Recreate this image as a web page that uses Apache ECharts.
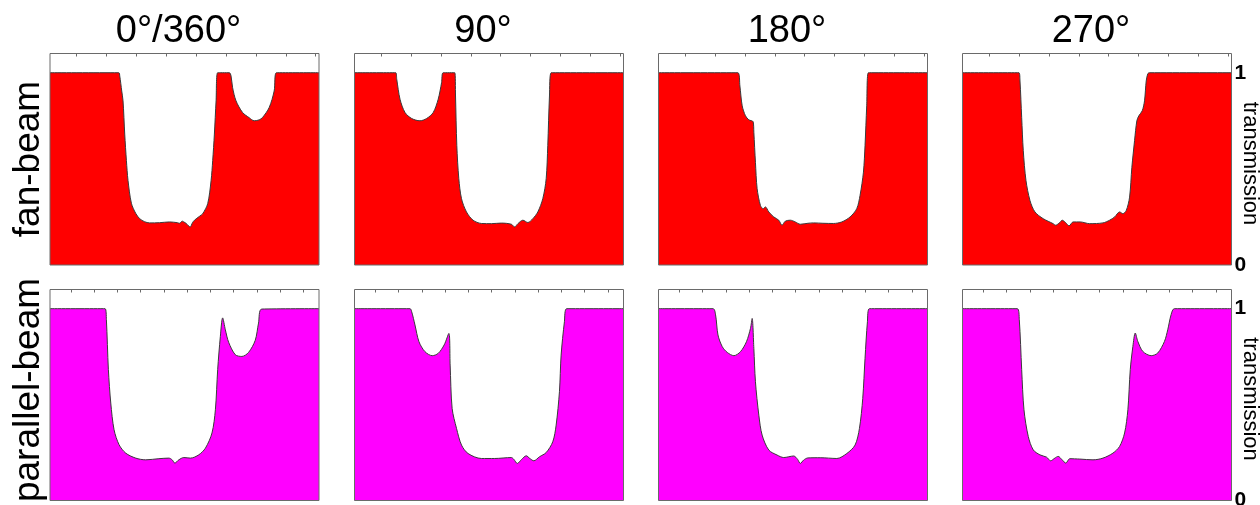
<!DOCTYPE html>
<html>
<head>
<meta charset="utf-8">
<script src="https://cdn.jsdelivr.net/npm/echarts@6/dist/echarts.min.js"></script>
<style>
  html, body { margin: 0; padding: 0; background: #fff; }
  #chart { width: 1260px; height: 505px; }
</style>
</head>
<body>
<div id="chart"></div>
<script>
// Projection angles (columns) and beam geometries (rows)
const angleLabels = ['0°/360°', '90°', '180°', '270°'];
const beamLabels = ['fan-beam', 'parallel-beam'];

// Detector position ticks (drawn along the top edge of every panel)
const fanTicks = [26.7, 56.7, 86.7, 116.7, 146.7, 176.7, 206.7, 236.7, 266.7];
const parallelTicks = [21, 44.3, 67.7, 91, 114.3, 137.7, 161, 184.3, 207.7, 231, 254.3];
const transmissionTicks = [0, 1];

// Transmission profiles: [detector position, transmission]
const fan0 = [
  [0, 1], [69, 1], [70, 0.983], [72, 0.905], [73.3, 0.854], [75, 0.681], [76.7, 0.543],
  [78.3, 0.44], [81.7, 0.321], [86, 0.269], [90, 0.241], [95, 0.225], [100, 0.219],
  [110, 0.22], [120, 0.224], [128, 0.22], [130, 0.217], [132.7, 0.228], [134, 0.225],
  [136.7, 0.216], [140.7, 0.198], [143, 0.22], [145, 0.233], [150, 0.253], [153.3, 0.267],
  [158.3, 0.319], [161.7, 0.44], [163.3, 0.543], [165, 0.681], [166.7, 0.854], [168.3, 1],
  [180, 1], [181.7, 0.983], [183.3, 0.922], [186.7, 0.854], [193.3, 0.793], [200, 0.766],
  [205, 0.75], [210, 0.755], [213.3, 0.767], [220, 0.819], [225, 0.905], [227.3, 1], [270, 1]
];
const fan90 = [
  [0, 1], [41.4, 1], [42.4, 0.966], [45.7, 0.862], [50.7, 0.793], [57.4, 0.762],
  [65.7, 0.75], [72.4, 0.762], [79, 0.793], [84, 0.862], [87.4, 0.948], [89, 1],
  [100.7, 1], [101.4, 0.879], [102.7, 0.621], [104.7, 0.449], [107.4, 0.345],
  [112.4, 0.276], [119, 0.233], [127.4, 0.216], [137.4, 0.215], [147.4, 0.218],
  [157.4, 0.212], [160.7, 0.198], [164, 0.215], [169, 0.233], [174, 0.221], [179, 0.241],
  [184, 0.276], [189, 0.345], [192.4, 0.449], [194, 0.621], [195.7, 0.879], [197.4, 1],
  [270, 1]
];
const fan180 = [
  [0, 1], [79.7, 1], [81.7, 0.931], [84, 0.828], [87.3, 0.776], [90.7, 0.755], [95, 0.745],
  [95.7, 0.69], [97.3, 0.534], [99, 0.397], [102.3, 0.31], [105, 0.293], [107.3, 0.302],
  [110.7, 0.276], [115.7, 0.25], [120.7, 0.233], [124, 0.207], [127.3, 0.228],
  [132.3, 0.233], [137.3, 0.224], [142.3, 0.212], [150, 0.217], [155.7, 0.219],
  [165, 0.217], [175.7, 0.216], [184, 0.224], [192.3, 0.25], [199, 0.293], [202.3, 0.362],
  [205.7, 0.483], [207.3, 0.621], [209, 0.828], [210.7, 1], [270, 1]
];
const fan270 = [
  [0, 1], [56.7, 1], [57.7, 0.957], [59.4, 0.767], [61, 0.595], [63.7, 0.44], [67.7, 0.336],
  [72.7, 0.276], [81, 0.241], [91, 0.215], [93.4, 0.207], [97.7, 0.221], [100, 0.233],
  [103.4, 0.221], [107, 0.204], [111, 0.224], [118, 0.224], [127.7, 0.215], [141, 0.219],
  [147.7, 0.233], [152.7, 0.25], [157.7, 0.276], [161, 0.267], [164.4, 0.284],
  [167.7, 0.353], [170, 0.508], [172.7, 0.647], [175, 0.75], [177, 0.776], [180.4, 0.802],
  [182.7, 0.854], [184.4, 0.957], [186, 0.995], [187.7, 1], [270, 1]
];
const par0 = [
  [0, 1], [55.3, 1], [56.6, 0.943], [58.6, 0.682], [61, 0.508], [64.3, 0.369], [69.3, 0.291],
  [76, 0.247], [86, 0.221], [96, 0.212], [109.3, 0.218], [119.3, 0.221], [122.6, 0.212],
  [125.3, 0.195], [129.3, 0.212], [134.3, 0.224], [141, 0.221], [149.3, 0.238],
  [156, 0.273], [162.6, 0.352], [166, 0.473], [168.3, 0.682], [171, 0.856], [173.3, 0.952],
  [176, 0.89], [179.3, 0.825], [186, 0.76], [192.6, 0.751], [199.3, 0.772], [206, 0.835],
  [209.3, 0.925], [212.6, 0.998], [270, 1]
];
const par90 = [
  [0, 1], [55.7, 1], [57.4, 0.984], [60.7, 0.915], [64.7, 0.828], [70.7, 0.776], [78, 0.755],
  [84, 0.767], [90, 0.811], [94.7, 0.871], [96, 0.706], [98, 0.48], [102.4, 0.376],
  [107.4, 0.289], [114, 0.245], [127.4, 0.219], [140.7, 0.219], [157.4, 0.224],
  [160, 0.214], [163.4, 0.193], [167.7, 0.214], [172.4, 0.233], [176, 0.219], [180, 0.207],
  [185.7, 0.228], [192.4, 0.25], [199, 0.306], [202.4, 0.393], [205.7, 0.567],
  [207.4, 0.758], [210.7, 0.932], [213, 1], [270, 1]
];
const par180 = [
  [0, 1], [54.7, 1], [57.3, 0.967], [59.7, 0.863], [64, 0.802], [69, 0.772], [75.7, 0.755],
  [82.3, 0.776], [88.3, 0.828], [92.3, 0.897], [94, 0.949], [95.7, 0.793], [97.3, 0.619],
  [100.7, 0.445], [104, 0.341], [110.7, 0.263], [119, 0.237], [125.7, 0.224],
  [135.7, 0.232], [139.7, 0.214], [142.3, 0.193], [145.7, 0.211], [150, 0.222],
  [162.3, 0.223], [179, 0.219], [189, 0.245], [197.3, 0.289], [201.7, 0.376], [205, 0.532],
  [207.3, 0.741], [209.7, 0.932], [211.7, 1], [270, 1]
];
const par270 = [
  [0, 1], [55, 1], [57, 0.943], [59.4, 0.682], [61.7, 0.473], [66, 0.334], [71, 0.264],
  [77.7, 0.238], [84.4, 0.226], [88.4, 0.207], [92.7, 0.221], [96, 0.23], [100, 0.212],
  [103.7, 0.195], [107.7, 0.218], [117.7, 0.216], [131, 0.212], [141, 0.221],
  [151, 0.247], [157.7, 0.282], [162.7, 0.352], [166, 0.473], [168.4, 0.682], [171, 0.803],
  [173.4, 0.873], [176, 0.829], [181, 0.777], [189.4, 0.755], [196, 0.769], [202.7, 0.829],
  [206, 0.89], [209.4, 0.969], [212.7, 1], [270, 1]
];

const profiles = [
  [fan0, fan90, fan180, fan270],
  [par0, par90, par180, par270]
];
const rowTicks = [fanTicks, parallelTicks];
const rowFill = ['#ff0000', '#ff00ff'];

// Panel layout (pixels)
const panelLefts = [50, 354.5, 658.5, 962.5];
const panelWidth = 269;
const rowTops = [53.5, 289.5];
const rowHeights = [211.5, 211];
const FONT = '"Liberation Sans", Arial, Helvetica, sans-serif';

const grid = [], xAxis = [], yAxis = [], series = [], graphic = [];

for (let r = 0; r < 2; r++) {
  for (let c = 0; c < 4; c++) {
    const i = r * 4 + c;
    const last = c === 3;
    grid.push({
      show: true, z: 5, containLabel: false, outerBoundsMode: 'none',
      left: panelLefts[c], top: rowTops[r], width: panelWidth, height: rowHeights[r],
      backgroundColor: 'transparent', borderColor: '#6a6a6a', borderWidth: 1
    });
    xAxis.push({
      type: 'value', gridIndex: i, position: 'top', min: 0, max: 270,
      axisLine: { show: false, onZero: false },
      axisTick: { show: true, inside: true, length: 3, customValues: rowTicks[r],
                  lineStyle: { color: '#6a6a6a', width: 1 } },
      axisLabel: { show: false }, splitLine: { show: false }
    });
    yAxis.push({
      type: 'value', gridIndex: i, position: 'right', min: 0, max: 1.1,
      show: last,
      axisLine: { show: false, onZero: false }, axisTick: { show: false },
      splitLine: { show: false },
      axisLabel: {
        show: last, customValues: transmissionTicks, margin: 3,
        color: '#000', fontSize: 21, fontWeight: 'bold', fontFamily: FONT
      }
    });
    series.push({
      type: 'line', xAxisIndex: i, yAxisIndex: i, data: profiles[r][c],
      symbol: 'none', smooth: 0.3, z: 2,
      lineStyle: { color: '#3a3a3a', width: 1 },
      areaStyle: { color: rowFill[r], opacity: 1 }
    });
  }
}

// Column titles
for (let c = 0; c < 4; c++) {
  graphic.push({
    type: 'text', x: panelLefts[c] + panelWidth / 2 - 6, y: 31.5,
    style: { text: angleLabels[c], fill: '#000', font: '38px ' + FONT,
             align: 'center', verticalAlign: 'middle' }
  });
}
// Row labels and right-hand axis names
for (let r = 0; r < 2; r++) {
  graphic.push({
    type: 'text', x: 29, y: r === 0 ? 159 : 390, rotation: Math.PI / 2,
    style: { text: beamLabels[r], fill: '#000', font: '37px ' + FONT,
             align: 'center', verticalAlign: 'middle' }
  });
  graphic.push({
    type: 'text', x: 1250, y: r === 0 ? 163.5 : 399, rotation: -Math.PI / 2,
    style: { text: 'transmission', fill: '#000', font: '22px ' + FONT,
             align: 'center', verticalAlign: 'middle' }
  });
}

const chart = echarts.init(document.getElementById('chart'), null, { renderer: 'canvas' });
chart.setOption({
  animation: false,
  backgroundColor: '#fff',
  grid, xAxis, yAxis, series, graphic
});
</script>
</body>
</html>
